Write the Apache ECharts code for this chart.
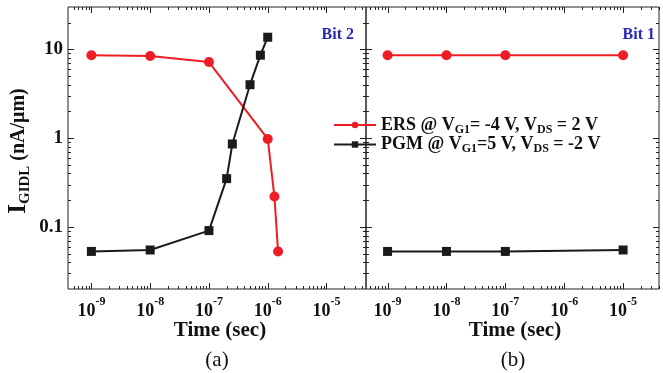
<!DOCTYPE html>
<html>
<head>
<meta charset="utf-8">
<script src="https://cdn.jsdelivr.net/npm/echarts@6/dist/echarts.min.js"></script>
<style>
  html, body { margin: 0; padding: 0; background: #fff; }
  #chart { width: 663px; height: 373px; }
</style>
</head>
<body>
<div id="chart"></div>
<script>
// (a) Bit 2: GIDL current during erase / program
const ersTimeA = [1e-9, 1e-8, 1e-7, 1e-6, 1.3e-6, 1.5e-6];
const ersIgidlA = [8.6, 8.4, 7.2, 0.98, 0.22, 0.053];
const pgmTimeA = [1e-9, 1e-8, 1e-7, 2e-7, 2.5e-7, 5e-7, 7.5e-7, 1e-6];
const pgmIgidlA = [0.053, 0.055, 0.091, 0.35, 0.86, 4.0, 8.6, 13.7];

// (b) Bit 1
const timeB = [1e-9, 1e-8, 1e-7, 1e-5];
const ersIgidlB = [8.6, 8.6, 8.6, 8.6];
const pgmIgidlB = [0.053, 0.053, 0.053, 0.055];

// tick labels
const xTickExponents = [-9, -8, -7, -6, -5];
const yTickLabels = { '-1': '0.1', '0': '1', '1': '10' };

const FONT = 'Liberation Serif';
const RED = '#ee1c24';
const BLACK = '#1b1b1b';

const pairs = (xs, ys) => xs.map((x, i) => [x, ys[i]]);

function xLabel(v) {
  const e = Math.log10(v);
  const r = Math.round(e);
  if (Math.abs(e - r) > 1e-6 || xTickExponents.indexOf(r) < 0) return '';
  return '{b|10}{s|' + r + '}';
}
function yLabel(v) {
  const e = Math.log10(v);
  const r = Math.round(e);
  if (Math.abs(e - r) > 1e-6) return '';
  return yTickLabels[String(r)] || '';
}

// inward major/minor log ticks on all four sides of a panel
function tickRenderer(xMin, xMax, yMin, yMax) {
  return function (params, api) {
    const cs = params.coordSys;
    const left = cs.x, right = cs.x + cs.width;
    const top = cs.y, bottom = cs.y + cs.height;
    const children = [];
    const add = (x1, y1, x2, y2) => children.push({
      type: 'line', shape: { x1, y1, x2, y2 },
      style: { stroke: '#222', lineWidth: 1 }, silent: true
    });
    for (let e = -11; e <= 2; e++) {
      for (let m = 1; m <= 9; m++) {
        const v = m * Math.pow(10, e);
        const len = m === 1 ? 6 : 3;
        if (v > xMin && v < xMax) {
          const x = Math.round(api.coord([v, 1])[0]) + 0.5;
          add(x, bottom, x, bottom - len);
          add(x, top, x, top + len);
        }
        if (v > yMin && v < yMax) {
          const y = Math.round(api.coord([1e-7, v])[1]) + 0.5;
          add(left, y, left + len, y);
          add(right, y, right - len, y);
        }
      }
    }
    return { type: 'group', children };
  };
}

const X_A = [4e-10, 4.7e-5];
const X_B = [4.3e-10, 4.07e-5];
const Y_R = [0.02, 30];

const xAxisBase = (range) => ({
  type: 'log', min: range[0], max: range[1],
  axisLine: { show: false },
  axisTick: { show: false },
  splitLine: { show: false },
  axisLabel: {
    formatter: xLabel, margin: 7, showMinLabel: false, showMaxLabel: false,
    color: '#111',
    rich: {
      b: { fontFamily: FONT, fontWeight: 'bold', fontSize: 18, lineHeight: 24, verticalAlign: 'bottom', color: '#111' },
      s: { fontFamily: FONT, fontWeight: 'bold', fontSize: 12, lineHeight: 11, verticalAlign: 'top', color: '#111' }
    }
  }
});
const yAxisBase = (showLabels) => ({
  type: 'log', min: Y_R[0], max: Y_R[1],
  axisLine: { show: false },
  axisTick: { show: false },
  splitLine: { show: false },
  axisLabel: {
    show: showLabels, formatter: yLabel, margin: 5,
    showMinLabel: false, showMaxLabel: false,
    fontFamily: FONT, fontWeight: 'bold', fontSize: 19, color: '#111'
  }
});

const lineSeries = (name, xi, data, color, symbol, size) => ({
  name, type: 'line', xAxisIndex: xi, yAxisIndex: xi, data,
  symbol, symbolSize: size, showSymbol: true,
  lineStyle: { color, width: 2 },
  itemStyle: { color },
  z: 3
});

const legendText = {
  ERS: '{t|ERS @ V}{s|G1}{t|= -4 V, V}{s|DS}{t| = 2 V}',
  PGM: '{t|PGM @ V}{s|G1}{t|=5 V, V}{s|DS}{t| = -2 V}'
};

const chart = echarts.init(document.getElementById('chart'), null, { renderer: 'canvas' });
chart.setOption({
  animation: false,
  backgroundColor: '#fff',
  grid: [
    { left: 68, top: 7, width: 298, height: 282, show: true, borderColor: '#222', borderWidth: 1, backgroundColor: 'transparent' },
    { left: 366, top: 7, width: 293, height: 282, show: true, borderColor: '#222', borderWidth: 1, backgroundColor: 'transparent' }
  ],
  xAxis: [
    Object.assign({ gridIndex: 0 }, xAxisBase(X_A)),
    Object.assign({ gridIndex: 1 }, xAxisBase(X_B))
  ],
  yAxis: [
    Object.assign({ gridIndex: 0 }, yAxisBase(true)),
    Object.assign({ gridIndex: 1 }, yAxisBase(false))
  ],
  legend: {
    data: ['ERS', 'PGM'],
    orient: 'vertical',
    left: 328, top: 111,
    itemWidth: 42, itemHeight: 8, itemGap: 0,
    formatter: (name) => legendText[name],
    textStyle: {
      color: '#111',
      rich: {
        t: { fontFamily: FONT, fontWeight: 'bold', fontSize: 18, lineHeight: 21, verticalAlign: 'middle', color: '#111' },
        s: { fontFamily: FONT, fontWeight: 'bold', fontSize: 12, lineHeight: 8, verticalAlign: 'bottom', color: '#111' }
      }
    }
  },
  series: [
    lineSeries('ERS', 0, pairs(ersTimeA, ersIgidlA), RED, 'circle', 10),
    lineSeries('PGM', 0, pairs(pgmTimeA, pgmIgidlA), BLACK, 'rect', 9),
    lineSeries('ERS', 1, pairs(timeB, ersIgidlB), RED, 'circle', 10),
    lineSeries('PGM', 1, pairs(timeB, pgmIgidlB), BLACK, 'rect', 9),
    {
      type: 'custom', xAxisIndex: 0, yAxisIndex: 0, silent: true, clip: false, z: 4,
      data: [[1e-7, 1]], renderItem: tickRenderer(X_A[0], X_A[1], Y_R[0], Y_R[1])
    },
    {
      type: 'custom', xAxisIndex: 1, yAxisIndex: 1, silent: true, clip: false, z: 4,
      data: [[1e-7, 1]], renderItem: tickRenderer(X_B[0], X_B[1], Y_R[0], Y_R[1])
    }
  ],
  graphic: [
    {
      type: 'text', x: 19, y: 151, rotation: Math.PI / 2,
      style: {
        text: '{i|I}{s|GIDL}{t| (nA/μm)}',
        align: 'center', verticalAlign: 'middle',
        textAlign: 'center', textVerticalAlign: 'middle',
        fill: '#111',
        rich: {
          i: { fontFamily: FONT, fontWeight: 'bold', fontSize: 25, lineHeight: 28, verticalAlign: 'middle', fill: '#111' },
          s: { fontFamily: FONT, fontWeight: 'bold', fontSize: 15, lineHeight: 11, verticalAlign: 'bottom', fill: '#111' },
          t: { fontFamily: FONT, fontWeight: 'bold', fontSize: 20, lineHeight: 28, verticalAlign: 'middle', fill: '#111' }
        }
      }
    },
    {
      type: 'text', x: 354, y: 35,
      style: { text: 'Bit 2', fill: '#2a2ab8', font: 'bold 16px "Liberation Serif"', align: 'right', verticalAlign: 'middle', textAlign: 'right', textVerticalAlign: 'middle' }
    },
    {
      type: 'text', x: 655, y: 35,
      style: { text: 'Bit 1', fill: '#2a2ab8', font: 'bold 16px "Liberation Serif"', align: 'right', verticalAlign: 'middle', textAlign: 'right', textVerticalAlign: 'middle' }
    },
    {
      type: 'text', x: 220, y: 331,
      style: { text: 'Time (sec)', fill: '#111', font: 'bold 21px "Liberation Serif"', align: 'center', verticalAlign: 'middle', textAlign: 'center', textVerticalAlign: 'middle' }
    },
    {
      type: 'text', x: 515, y: 331,
      style: { text: 'Time (sec)', fill: '#111', font: 'bold 21px "Liberation Serif"', align: 'center', verticalAlign: 'middle', textAlign: 'center', textVerticalAlign: 'middle' }
    },
    {
      type: 'text', x: 217, y: 360,
      style: { text: '(a)', fill: '#111', font: '21px "Liberation Serif"', align: 'center', verticalAlign: 'middle', textAlign: 'center', textVerticalAlign: 'middle' }
    },
    {
      type: 'text', x: 513, y: 360,
      style: { text: '(b)', fill: '#111', font: '21px "Liberation Serif"', align: 'center', verticalAlign: 'middle', textAlign: 'center', textVerticalAlign: 'middle' }
    }
  ]
});
</script>
</body>
</html>
